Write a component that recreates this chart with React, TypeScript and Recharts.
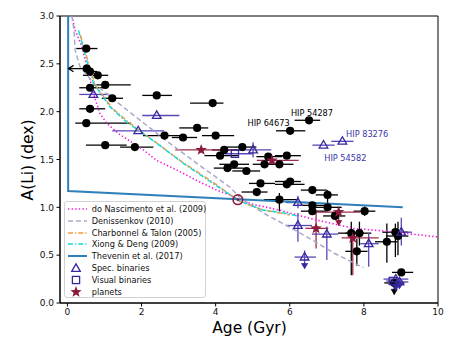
import React from 'react';
import { ScatterChart, Scatter, XAxis, YAxis, ErrorBar, ReferenceArea } from 'recharts';

type Row = [number, number, number, number, number?, number?];
type Pt = [number, number];

const FONT = '"DejaVu Sans", Verdana, sans-serif';

const xTicks = [0, 2, 4, 6, 8, 10];
const yTicks = [0, 0.5, 1, 1.5, 2, 2.5, 3];

const modelNames = [
  'do Nascimento et al. (2009)',
  'Denissenkov (2010)',
  'Charbonnel & Talon (2005)',
  'Xiong & Deng (2009)',
  'Thevenin et al. (2017)',
];
const markerNames = ['Spec. binaries', 'Visual binaries', 'planets'];

// model curves: [age, A(Li)]
const nascimentoCurve: Pt[] = [
  [0.12, 3.0], [0.21, 2.85], [0.39, 2.68], [0.57, 2.4], [0.7, 2.19], [0.88, 1.98], [1.06, 1.88],
  [1.38, 1.77], [1.7, 1.69], [2.05, 1.6], [2.41, 1.49], [2.95, 1.39], [3.49, 1.28], [4.03, 1.18],
  [4.39, 1.13], [4.62, 1.08], [5.02, 1.03], [5.74, 0.97], [6.19, 0.92], [6.7, 0.87], [7.72, 0.78],
  [8.62, 0.75], [10.0, 0.69],
];
const denissenkovCurve: Pt[] = [
  [0.12, 3.0], [0.18, 2.85], [0.21, 2.64], [0.34, 2.47], [0.7, 2.3], [1.6, 2.02], [2.59, 1.72],
  [3.49, 1.46], [4.39, 1.21], [4.66, 1.1], [5.38, 0.92], [6.01, 0.79], [6.73, 0.63], [7.2, 0.52],
  [7.99, 0.37],
];
const charbonnelCurve: Pt[] = [
  [0.35, 2.8], [0.5, 2.6], [0.75, 2.28], [1.2, 2.04], [1.65, 1.89], [2.1, 1.76], [2.45, 1.66],
  [3.15, 1.46], [3.9, 1.27], [4.4, 1.13], [4.65, 1.06], [5.3, 0.97], [5.75, 0.94], [6.0, 0.92],
];
const xiongCurve: Pt[] = [
  [0.3, 2.85], [0.43, 2.66], [0.7, 2.3], [1.15, 2.05], [1.6, 1.89], [2.05, 1.77], [2.41, 1.67],
  [3.13, 1.46], [3.85, 1.27], [4.39, 1.13], [4.62, 1.07], [5.29, 0.97], [5.74, 0.95], [6.2, 0.91],
];
const theveninCurve: Pt[] = [[0.02, 3.0], [0.02, 1.17], [9.05, 1.0]];

// [age, A(Li), ageLow, ageHigh, ALiLow?, ALiHigh?]
const singleStars: Row[] = [
  [0.51, 2.66, 0.24, 0.81], [0.52, 2.45, 0.03, 0.52], [0.61, 2.42, 0.45, 0.8], [0.82, 2.38, 0.42, 1.1],
  [1.02, 2.28, 0.7, 1.71], [0.61, 2.25, 0.32, 0.97], [1.21, 2.14, 0.93, 1.5], [2.41, 2.17, 2.02, 2.82],
  [0.61, 2.03, 0.32, 1.02], [0.51, 1.88, 0.21, 1.71], [2.62, 1.75, 2.04, 3.04], [3.12, 1.73, 2.82, 3.5],
  [1.02, 1.65, 0.5, 1.6], [1.82, 1.63, 1.42, 2.32], [3.92, 2.09, 3.31, 4.21], [3.5, 1.83, 3.02, 3.8],
  [4.0, 1.75, 3.63, 4.5], [4.23, 1.6, 3.9, 4.7], [4.72, 1.63, 4.3, 5.1], [5.42, 1.53, 5.1, 5.8],
  [4.12, 1.54, 3.7, 4.6], [4.32, 1.41, 3.95, 4.75], [4.5, 1.45, 4.1, 4.9], [4.83, 1.38, 4.45, 5.2],
  [5.21, 1.25, 4.9, 5.6], [5.11, 1.16, 4.7, 5.4], [5.92, 1.54, 5.6, 6.3], [5.32, 1.45, 5.0, 5.6],
  [5.72, 1.45, 5.3, 6.1], [5.92, 1.24, 5.6, 6.4], [6.01, 1.27, 5.6, 6.3], [6.61, 1.18, 6.3, 7.0],
  [5.72, 1.08, 5.3, 6.2, 0.96, 1.15], [6.61, 1.02, 6.2, 7.1], [6.61, 0.96, 6.3, 7.0],
  [7.02, 1.13, 6.7, 7.3, 0.97, 1.18], [7.02, 1.0, 6.6, 7.4], [8.02, 0.96, 7.72, 8.31, 0.91, 1.01],
  [7.22, 0.91, 6.9, 7.5], [7.66, 0.73, 7.3, 8.0, 0.29, 0.85], [7.88, 0.73, 7.5, 8.2, 0.6, 0.85],
  [8.62, 0.64, 8.3, 8.9, 0.42, 0.83], [7.81, 0.54, 7.5, 8.1, 0.39, 0.67], [8.85, 0.74, 8.5, 9.2, 0.48, 0.83],
  [8.92, 0.7, 8.6, 9.2, 0.5, 0.85], [9.01, 0.32, 8.76, 9.33], [8.82, 0.21, 8.55, 9.1, 0.09, 0.21],
  [6.52, 1.91, 6.13, 6.82], [6.01, 1.8, 5.63, 6.42],
];
const specBinaries: Row[] = [
  [0.7, 2.18, 0.32, 1.13], [2.41, 1.96, 2.02, 3.02], [1.91, 1.8, 1.21, 2.61],
  [5.01, 1.6, 4.6, 5.5, 1.52, 1.68], [7.42, 1.69, 7.12, 7.72], [6.91, 1.65, 6.61, 7.21],
  [6.22, 1.05, 5.9, 6.5, 0.99, 1.12], [6.22, 0.81, 5.9, 6.6, 0.64, 0.94], [7.0, 0.72, 6.6, 7.3, 0.45, 0.8],
  [6.4, 0.48, 6.13, 6.71, 0.36, 0.55], [8.13, 0.62, 7.9, 8.4, 0.38, 0.73], [9.01, 0.74, 8.8, 9.3, 0.6, 0.89],
  [8.86, 0.25, 8.53, 9.2, 0.13, 0.25], [8.96, 0.22, 8.7, 9.2, 0.15, 0.22],
];
const visualBinaries: Row[] = [
  [4.52, 1.56, 4.1, 5.0], [8.78, 0.23, 8.6, 9.05],
];
const planetHosts: Row[] = [
  [3.61, 1.6, 2.91, 4.53], [5.52, 1.49, 5.11, 6.24], [6.71, 0.78, 6.42, 7.04, 0.57, 0.97],
  [7.32, 0.95, 6.7, 7.9, 0.81, 0.99], [7.7, 0.68, 7.4, 8.4, 0.29, 0.76],
];
const sunPoint: Pt[] = [[4.6, 1.08]];
const leftArrowTips: Pt[] = [[0.03, 2.45]];
const blackDownTips: Pt[] = [[8.82, 0.09]];
const blueDownTips: Pt[] = [[6.4, 0.36], [8.86, 0.13], [8.96, 0.15]];
const maroonDownTips: Pt[] = [[7.32, 0.81]];

const annotations = [
  { text: 'HIP 54287', x: 6.03, y: 1.99, blue: false },
  { text: 'HIP 64673', x: 4.86, y: 1.88, blue: false },
  { text: 'HIP 83276', x: 7.52, y: 1.77, blue: true },
  { text: 'HIP 54582', x: 6.93, y: 1.52, blue: true },
];

const C = {
  nasc: '#f01fd8',
  den: '#a9a9c9',
  charb: '#f59a3c',
  xiong: '#16d8d8',
  thev: '#2f7fba',
  blue: '#35279e',
  blueBar: '#5648b8',
  maroon: '#8b1a3b',
  maroonBar: '#9c2c4a',
  annBlue: '#3a34a8',
};

const modelStyles = [
  { data: nascimentoCurve, stroke: C.nasc, dash: '1.4 2.2', w: 1.6 },
  { data: denissenkovCurve, stroke: C.den, dash: '5 3', w: 1.5 },
  { data: charbonnelCurve, stroke: C.charb, dash: '5 2 1.3 2', w: 1.5 },
  { data: xiongCurve, stroke: C.xiong, dash: '5 2 1.3 2', w: 1.5 },
  { data: theveninCurve, stroke: C.thev, dash: undefined as string | undefined, w: 2 },
];

const toCurve = (pts: Pt[]) => pts.map(([x, y]) => ({ x, y }));
const toPoints = (rows: Row[]) =>
  rows.map(([x, y, xlo, xhi, ylo, yhi]) => ({
    x,
    y,
    ex: [x - xlo, xhi - x],
    ey: ylo != null && yhi != null ? [y - ylo, yhi - y] : null,
  }));

const starPath = (cx: number, cy: number, R: number, r: number) => {
  let d = '';
  for (let i = 0; i < 10; i++) {
    const a = -Math.PI / 2 + (i * Math.PI) / 5;
    const rr = i % 2 === 0 ? R : r;
    d += `${i === 0 ? 'M' : 'L'}${(cx + rr * Math.cos(a)).toFixed(2)},${(cy + rr * Math.sin(a)).toFixed(2)}`;
  }
  return d + 'Z';
};

const Nothing = () => <g />;
const CircleShape = (p: any) => <circle cx={p.cx} cy={p.cy} r={4.1} fill="#000" />;
const TriShape = (p: any) => (
  <path
    d={`M${p.cx},${p.cy - 4.6}L${p.cx - 4.3},${p.cy + 2.9}L${p.cx + 4.3},${p.cy + 2.9}Z`}
    fill="none"
    stroke={C.blue}
    strokeWidth={1.3}
  />
);
const SquareShape = (p: any) => (
  <rect x={p.cx - 3.6} y={p.cy - 3.6} width={7.2} height={7.2} fill="none" stroke={C.blue} strokeWidth={1.3} />
);
const StarShape = (p: any) => <path d={starPath(p.cx, p.cy, 6, 2.5)} fill={C.maroon} />;
const SunShape = (p: any) => (
  <g>
    <circle cx={p.cx} cy={p.cy} r={4.8} fill="none" stroke={C.maroon} strokeWidth={1.6} />
    <circle cx={p.cx} cy={p.cy} r={1.4} fill={C.maroon} />
  </g>
);
const downArrow = (color: string) => (p: any) => (
  <path d={`M${p.cx - 3},${p.cy - 5}L${p.cx},${p.cy}L${p.cx + 3},${p.cy - 5}Z`} fill={color} stroke={color} strokeWidth={0.8} />
);
const LeftArrow = (p: any) => (
  <path d={`M${p.cx + 5},${p.cy - 3.2}L${p.cx},${p.cy}L${p.cx + 5},${p.cy + 3.2}`} fill="none" stroke="#000" strokeWidth={1.3} />
);
const AnnShape = (p: any) => (
  <text
    x={p.cx}
    y={p.cy}
    fontSize={8.2}
    fontFamily={FONT}
    dominantBaseline="central"
    fill={p.payload.blue ? C.annBlue : '#000'}
  >
    {p.payload.text}
  </text>
);

const tickStyle = { fontSize: 9, fontFamily: FONT, fill: '#111' };

const LegendSymbol = ({ i }: { i: number }) => {
  if (i < modelStyles.length) {
    const m = modelStyles[i];
    return (
      <svg width={22} height={10} style={{ display: 'block' }}>
        <line x1={2} x2={21} y1={5} y2={5} stroke={m.stroke} strokeWidth={m.w} strokeDasharray={m.dash} />
      </svg>
    );
  }
  const k = i - modelStyles.length;
  return (
    <svg width={22} height={12} style={{ display: 'block' }}>
      {k === 0 && <TriShape cx={10} cy={6.5} />}
      {k === 1 && <SquareShape cx={10} cy={6} />}
      {k === 2 && <StarShape cx={10} cy={6} />}
    </svg>
  );
};

const ChartLegend = () => {
  const names = [...modelNames, ...markerNames];
  return (
    <div
      style={{
        position: 'absolute',
        left: 64,
        top: 201,
        width: 142,
        height: 97,
        border: '1px solid #d2d2d2',
        borderRadius: 3,
        background: 'rgba(255,255,255,0.85)',
        boxSizing: 'border-box',
        fontFamily: FONT,
        fontSize: 8.2,
        color: '#111',
      }}
    >
      {names.map((n, i) => (
        <div
          key={n}
          style={{
            position: 'absolute',
            left: 1,
            top: 0.7 + i * 11.9,
            height: 12,
            display: 'flex',
            alignItems: 'center',
            whiteSpace: 'nowrap',
          }}
        >
          <div style={{ width: 25.7 }}>
            <LegendSymbol i={i} />
          </div>
          <span>{n}</span>
        </div>
      ))}
    </div>
  );
};

export default function App() {
  return (
    <div style={{ position: 'absolute', left: 0, top: 0, width: 457, height: 360, background: '#fff' }}>
      <ScatterChart width={457} height={360} margin={{ top: 16, right: 19, bottom: 0, left: 0 }}>
        <XAxis
          type="number"
          dataKey="x"
          domain={[-0.2, 10]}
          ticks={xTicks}
          allowDataOverflow
          height={57}
          tickSize={3.5}
          tickMargin={2}
          tick={tickStyle}
          stroke="#000"
          label={{
            content: () => (
              <text x={249.5} y={328} textAnchor="middle" dominantBaseline="central" fontSize={15.5} fontFamily={FONT} fill="#000">
                Age (Gyr)
              </text>
            ),
          }}
        />
        <YAxis
          type="number"
          dataKey="y"
          domain={[0, 3]}
          ticks={yTicks}
          allowDataOverflow
          width={60}
          tickSize={3.5}
          tickMargin={2.5}
          tick={tickStyle}
          stroke="#000"
          tickFormatter={(v: number) => v.toFixed(1)}
          label={{
            content: () => (
              <text
                x={28}
                y={160}
                transform="rotate(-90 28 160)"
                textAnchor="middle"
                dominantBaseline="central"
                fontSize={15.5}
                fontFamily={FONT}
                fill="#000"
              >
                A(Li) (dex)
              </text>
            ),
          }}
        />
        <ReferenceArea x1={-0.2} x2={10} y1={0} y2={3} fill="none" stroke="#000" strokeWidth={1} ifOverflow="visible" />

        {modelStyles.map((m, i) => (
          <Scatter
            key={'m' + i}
            data={toCurve(m.data)}
            fill={m.stroke}
            line={{ stroke: m.stroke, strokeWidth: m.w, strokeDasharray: m.dash }}
            lineType="joint"
            shape={Nothing}
            isAnimationActive={false}
          />
        ))}

        <Scatter data={toPoints(singleStars)} shape={CircleShape} isAnimationActive={false}>
          <ErrorBar dataKey="ex" direction="x" width={0} stroke="#000" strokeWidth={1.3} />
          <ErrorBar dataKey="ey" direction="y" width={0} stroke="#000" strokeWidth={1.3} />
        </Scatter>
        <Scatter data={toPoints(specBinaries)} shape={TriShape} isAnimationActive={false}>
          <ErrorBar dataKey="ex" direction="x" width={0} stroke={C.blueBar} strokeWidth={1.3} />
          <ErrorBar dataKey="ey" direction="y" width={0} stroke={C.blueBar} strokeWidth={1.3} />
        </Scatter>
        <Scatter data={toPoints(visualBinaries)} shape={SquareShape} isAnimationActive={false}>
          <ErrorBar dataKey="ex" direction="x" width={0} stroke={C.blueBar} strokeWidth={1.3} />
        </Scatter>
        <Scatter data={toPoints(planetHosts)} shape={StarShape} isAnimationActive={false}>
          <ErrorBar dataKey="ex" direction="x" width={0} stroke={C.maroonBar} strokeWidth={1.3} />
          <ErrorBar dataKey="ey" direction="y" width={0} stroke={C.maroonBar} strokeWidth={1.3} />
        </Scatter>
        <Scatter data={toCurve(leftArrowTips)} shape={LeftArrow} isAnimationActive={false} />
        <Scatter data={toCurve(blackDownTips)} shape={downArrow('#000')} isAnimationActive={false} />
        <Scatter data={toCurve(blueDownTips)} shape={downArrow(C.blue)} isAnimationActive={false} />
        <Scatter data={toCurve(maroonDownTips)} shape={downArrow(C.maroon)} isAnimationActive={false} />
        <Scatter data={toCurve(sunPoint)} shape={SunShape} isAnimationActive={false} />
        <Scatter data={annotations} shape={AnnShape} isAnimationActive={false} />
      </ScatterChart>
      <ChartLegend />
    </div>
  );
}
